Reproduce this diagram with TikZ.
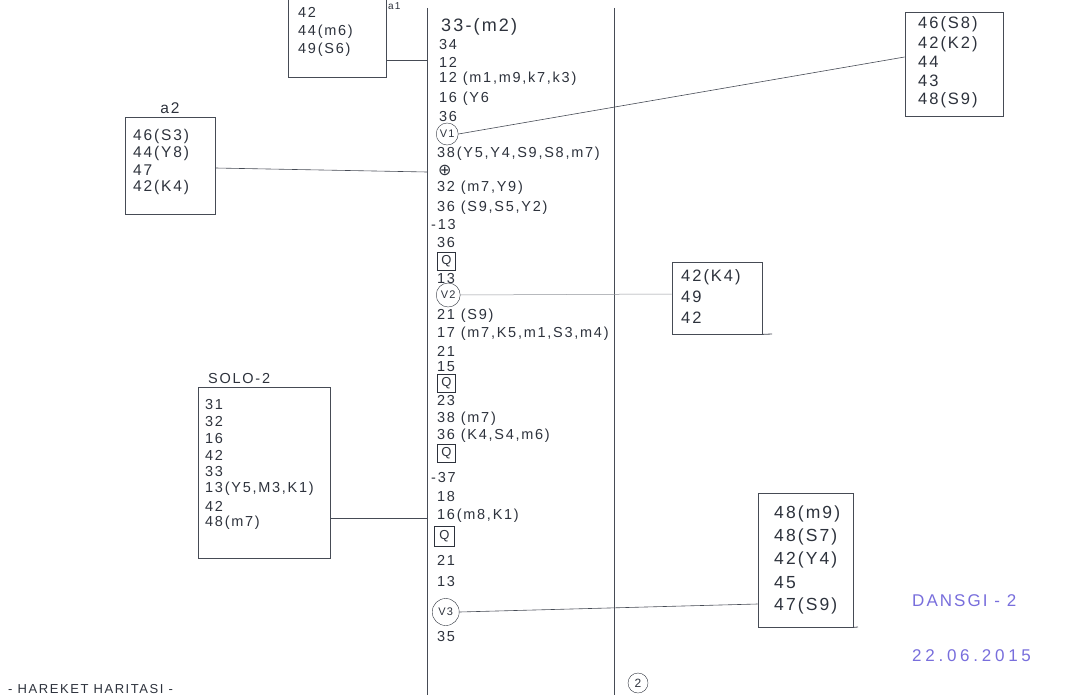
\documentclass[tikz,border=0pt]{standalone}
\usepackage{fontspec}
\setmainfont{Liberation Sans}[LetterSpace=12]
\newfontfamily\symfont{DejaVu Sans}
\newfontfamily\datefont{Liberation Sans}[LetterSpace=22]
\definecolor{pen}{RGB}{45,50,60}
\definecolor{rule}{RGB}{70,75,85}
\definecolor{violet}{RGB}{120,110,220}
\begin{document}
\begin{tikzpicture}[x=1pt,y=-1pt,
  every node/.style={text=pen, font=\fontsize{14.5}{16}\selectfont, inner sep=0pt},
  item/.style={anchor=west},
  bigitem/.style={anchor=west, font=\fontsize{16.5}{18}\selectfont},
  boxline/.style={draw=rule, line width=0.8pt},
  link/.style={draw=rule, line width=0.6pt},
  circ/.style={draw=pen, circle, minimum size=22pt, inner sep=0.5pt, font=\fontsize{11}{12}\selectfont, anchor=west},
  qbox/.style={draw=pen, line width=0.9pt, minimum size=18pt, inner sep=0pt, font=\fontsize{13}{14}\selectfont, anchor=west},
  lbl/.style={anchor=west, text=violet, font=\fontsize{17}{19}\selectfont}]
\useasboundingbox (0,0) rectangle (1078,695);
% central column
\coordinate (cTL) at (427,8);
\coordinate (cBL) at (427,695);
\coordinate (cTR) at (614,8);
\coordinate (cBR) at (614,695);
\draw[boxline] (cTL) -- (cBL);
\draw[boxline] (cTR) -- (cBR);
\node[circle, draw=pen, minimum size=20pt, font=\fontsize{12}{13}\selectfont] (page) at (638,683) {2};
% column items
\node[item, font=\fontsize{18}{20}\selectfont] (i1) at (441,27) {33-(m2)};
\node[item] (i2) at (439,45) {34};
\node[item] (i3) at (439,62) {12};
\node[item] (i4) at (439,79) {12 (m1,m9,k7,k3)};
\node[item] (i5) at (439,99) {16 (Y6};
\node[item] (i6) at (439,117) {36};
\node[circ] (v1) at (436,134) {V1};
\node[item] (i7) at (437,154) {38(Y5,Y4,S9,S8,m7)};
\node[item, font=\symfont\fontsize{16}{17}\selectfont] (i8) at (438,170) {⊕};
\node[item] (i9) at (437,188) {32 (m7,Y9)};
\node[item] (i10) at (437,208) {36 (S9,S5,Y2)};
\node[item] (i11) at (431,225) {-13};
\node[item] (i12) at (437,243) {36};
\node[qbox] (q1) at (437,261) {Q};
\node[item] (i13) at (437,279) {13};
\node[circ, minimum size=24pt] (v2) at (436,295) {V2};
\node[item] (i14) at (437,316) {21 (S9)};
\node[item] (i15) at (437,334) {17 (m7,K5,m1,S3,m4)};
\node[item] (i16) at (437,351) {21};
\node[item] (i17) at (437,367) {15};
\node[qbox] (q2) at (437,383) {Q};
\node[item] (i18) at (437,401) {23};
\node[item] (i19) at (437,419) {38 (m7)};
\node[item] (i20) at (437,436) {36 (K4,S4,m6)};
\node[qbox] (q3) at (437,453) {Q};
\node[item] (i21) at (431,478) {-37};
\node[item] (i22) at (437,497) {18};
\node[item] (i23) at (437,516) {16(m8,K1)};
\node[qbox, minimum size=20pt] (q4) at (434,536) {Q};
\node[item] (i24) at (437,560) {21};
\node[item] (i25) at (437,582) {13};
\node[circ, minimum size=27pt] (v3) at (432,612) {V3};
\node[item] (i26) at (437,637) {35};
% top-left box (a1)
\coordinate (a1TL) at (288,0);
\coordinate (a1BL) at (288,77);
\coordinate (a1BR) at (386,77);
\coordinate (a1TR) at (386,0);
\draw[boxline] (a1TL) -- (a1BL) -- (a1BR) -- (a1TR);
\node[anchor=west, font=\fontsize{10}{11}\selectfont] (a1lbl) at (388,6) {a1};
\node[item] (a1t1) at (298,12) {42};
\node[item] (a1t2) at (298,32) {44(m6)};
\node[item] (a1t3) at (298,50) {49(S6)};
\coordinate (a1out) at (386,60);
\coordinate (a1in) at (427,60);
\draw[link] (a1out) -- (a1in);
% a2 box
\node[draw=rule, line width=0.8pt, minimum width=90pt, minimum height=97pt] (a2) at (170,165.5) {};
\node[font=\fontsize{15.5}{17}\selectfont] (a2lbl) at (170,108) {a2};
\node[bigitem, font=\fontsize{15.5}{17}\selectfont] (a2t1) at (133,136) {46(S3)};
\node[bigitem, font=\fontsize{15.5}{17}\selectfont] (a2t2) at (133,153) {44(Y8)};
\node[bigitem, font=\fontsize{15.5}{17}\selectfont] (a2t3) at (133,170) {47};
\node[bigitem, font=\fontsize{15.5}{17}\selectfont] (a2t4) at (133,187) {42(K4)};
\coordinate (a2in) at (427,172);
\draw[link] (a2.east |- 0,168) -- (a2in);
% top-right box
\node[draw=rule, line width=0.8pt, minimum width=98pt, minimum height=104pt] (tr) at (954,64) {};
\node[bigitem] (trt1) at (918,24) {46(S8)};
\node[bigitem] (trt2) at (918,44) {42(K2)};
\node[bigitem] (trt3) at (918,62) {44};
\node[bigitem] (trt4) at (918,81) {43};
\node[bigitem] (trt5) at (918,100) {48(S9)};
\draw[link] (v1.east) -- (tr.west |- 0,57);
% mid-right box
\node[draw=rule, line width=0.8pt, minimum width=90pt, minimum height=72pt] (mr) at (717,298) {};
\coordinate (mrext) at (772,334);
\draw[boxline] (mr.south east) -- (mrext);
\node[bigitem] (mrt1) at (681,277) {42(K4)};
\node[bigitem] (mrt2) at (681,297) {49};
\node[bigitem] (mrt3) at (681,318) {42};
\draw[draw=rule!60, line width=0.5pt] (v2.east) -- (mr.west |- 0,294);
% SOLO-2 box
\node[draw=rule, line width=0.8pt, minimum width=132pt, minimum height=171pt] (solo) at (264,472.5) {};
\node[anchor=west] (sololbl) at (208,379) {SOLO-2};
\node[item] (s1) at (205,405) {31};
\node[item] (s2) at (205,422) {32};
\node[item] (s3) at (205,439) {16};
\node[item] (s4) at (205,455) {42};
\node[item] (s5) at (205,472) {33};
\node[item] (s6) at (205,489) {13(Y5,M3,K1)};
\node[item] (s7) at (205,506) {42};
\node[item] (s8) at (205,523) {48(m7)};
\coordinate (soloin) at (427,518);
\draw[link] (solo.east |- 0,518) -- (soloin);
% bottom-right box
\node[draw=rule, line width=0.8pt, minimum width=95pt, minimum height=134pt] (br) at (805.5,560) {};
\coordinate (brext) at (858,627);
\draw[boxline] (br.south east) -- (brext);
\node[bigitem, font=\fontsize{17.5}{19}\selectfont] (b1) at (774,514) {48(m9)};
\node[bigitem, font=\fontsize{17.5}{19}\selectfont] (b2) at (774,537) {48(S7)};
\node[bigitem, font=\fontsize{17.5}{19}\selectfont] (b3) at (774,560) {42(Y4)};
\node[bigitem, font=\fontsize{17.5}{19}\selectfont] (b4) at (774,583) {45};
\node[bigitem, font=\fontsize{17.5}{19}\selectfont] (b5) at (774,606) {47(S9)};
\draw[link] (v3.east) -- (br.west |- 0,604);
% labels
\node[lbl] (dansgi) at (912,601) {DANSGI - 2};
\node[lbl, font=\datefont\fontsize{17}{19}\selectfont] (date) at (912,656) {22.06.2015};
\node[anchor=west, font=\fontsize{13}{14}\selectfont] (title) at (8,689) {- HAREKET HARITASI -};
\end{tikzpicture}
\end{document}
